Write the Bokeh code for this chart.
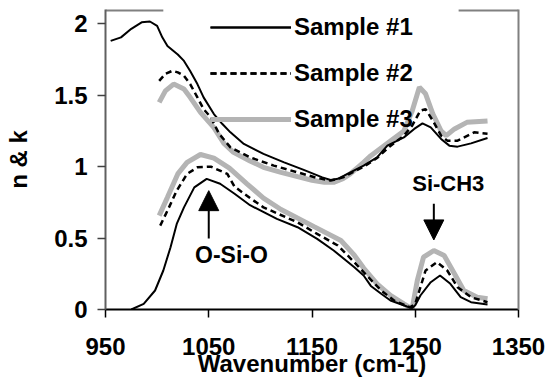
from bokeh.plotting import figure
from bokeh.models import (Range1d, FixedTicker, LinearAxis, Legend, LegendItem,
                          Arrow, NormalHead, Label)
from bokeh.embed import file_html
from bokeh.resources import INLINE

# ---------------- data ----------------
s1_n_x = [955, 965, 975, 985, 993, 1000, 1005, 1010, 1020, 1026, 1032, 1039, 1045, 1055, 1063,
          1071, 1084, 1103, 1123, 1142, 1160, 1168, 1175, 1181, 1200, 1213, 1223, 1239, 1249,
          1257, 1265, 1275, 1283, 1291, 1304, 1320]
s1_n_y = [1.88, 1.905, 1.965, 2.01, 2.016, 1.985, 1.905, 1.845, 1.785, 1.74, 1.67, 1.578, 1.485,
          1.368, 1.30, 1.24, 1.159, 1.089, 1.03, 0.977, 0.925, 0.907, 0.915, 0.937, 1.007, 1.065,
          1.147, 1.205, 1.264, 1.303, 1.275, 1.194, 1.147, 1.14, 1.163, 1.20]

s2_n_x = [1002, 1008, 1015, 1020, 1026, 1032, 1039, 1045, 1052, 1060, 1071, 1090, 1113, 1136,
          1155, 1168, 1180, 1200, 1213, 1225, 1239, 1247, 1255, 1260, 1267, 1275, 1281, 1291,
          1307, 1320]
s2_n_y = [1.60, 1.65, 1.671, 1.66, 1.636, 1.578, 1.485, 1.403, 1.345, 1.23, 1.135, 1.065, 1.007,
          0.96, 0.921, 0.902, 0.925, 1.0, 1.06, 1.14, 1.217, 1.287, 1.392, 1.403, 1.322, 1.217,
          1.182, 1.182, 1.24, 1.23]

s3_n_x = [1002, 1008, 1016, 1026, 1032, 1042, 1055, 1065, 1074, 1090, 1103, 1120, 1136, 1150,
          1162, 1171, 1180, 1187, 1200, 1207, 1226, 1239, 1247, 1254, 1260, 1267, 1275, 1280,
          1288, 1300, 1320]
s3_n_y = [1.45, 1.53, 1.578, 1.543, 1.485, 1.38, 1.273, 1.16, 1.10, 1.04, 0.995, 0.96, 0.93,
          0.905, 0.89, 0.89, 0.915, 0.949, 1.03, 1.077, 1.18, 1.25, 1.39, 1.555, 1.51, 1.37,
          1.25, 1.217, 1.264, 1.31, 1.32]

s1_k_x = [975, 987, 998, 1006, 1013, 1019, 1026, 1036, 1048, 1061, 1075, 1090, 1116, 1136,
          1155, 1171, 1191, 1200, 1207, 1217, 1226, 1242, 1247, 1250, 1255, 1265, 1274, 1284,
          1294, 1304, 1320]
s1_k_y = [0.0, 0.04, 0.133, 0.273, 0.436, 0.599, 0.715, 0.855, 0.914, 0.88, 0.81, 0.73, 0.634,
          0.576, 0.494, 0.413, 0.296, 0.238, 0.165, 0.11, 0.063, 0.021, 0.01, 0.03, 0.098, 0.191,
          0.238, 0.18, 0.086, 0.051, 0.035]

s2_k_x = [1003, 1010, 1019, 1029, 1039, 1052, 1068, 1075, 1090, 1103, 1136, 1155, 1175, 1191,
          1200, 1217, 1230, 1245, 1250, 1254, 1260, 1271, 1281, 1291, 1304, 1320]
s2_k_y = [0.587, 0.692, 0.832, 0.949, 0.995, 1.0, 0.949, 0.86, 0.78, 0.715, 0.61, 0.529, 0.448,
          0.331, 0.261, 0.133, 0.06, 0.015, 0.04, 0.133, 0.273, 0.331, 0.273, 0.156, 0.086, 0.051]

s3_k_x = [1002, 1010, 1020, 1029, 1042, 1055, 1070, 1087, 1103, 1120, 1152, 1178, 1191, 1200,
          1213, 1226, 1239, 1247, 1252, 1258, 1268, 1278, 1288, 1297, 1310, 1320]
s3_k_y = [0.657, 0.785, 0.949, 1.03, 1.085, 1.06, 0.99, 0.88, 0.78, 0.70, 0.58, 0.483, 0.38,
          0.29, 0.18, 0.098, 0.04, 0.005, 0.203, 0.366, 0.413, 0.378, 0.25, 0.133, 0.086, 0.075]

series_labels = ["Sample #1", "Sample #2", "Sample #3"]
x_ticks = [950, 1050, 1150, 1250, 1350]
y_ticks = [0, 0.5, 1, 1.5, 2]
y_tick_labels = ["0", "0.5", "1", "1.5", "2"]

FONT = "Liberation Sans"
GRAY = "#b4b4b4"

p = figure(width=552, height=379, output_backend="svg", toolbar_location=None,
           x_range=Range1d(950, 1350), y_range=Range1d(0, 2.1),
           min_border_left=105, min_border_right=34, min_border_top=9, min_border_bottom=70)
p.outline_line_color = None
p.grid.visible = False
p.background_fill_color = "white"

# curves: gray first, then dashed, then black on top
r3n = p.line(s3_n_x, s3_n_y, line_color=GRAY, line_width=5)
r3k = p.line(s3_k_x, s3_k_y, line_color=GRAY, line_width=5)
r2n = p.line(s2_n_x, s2_n_y, line_color="black", line_width=2.5, line_dash="6 4")
r2k = p.line(s2_k_x, s2_k_y, line_color="black", line_width=2.5, line_dash="6 4")
r1n = p.line(s1_n_x, s1_n_y, line_color="black", line_width=2)
r1k = p.line(s1_k_x, s1_k_y, line_color="black", line_width=2)

# partial top frame border (legend box hides the middle part)
p.segment(x0=[950, 1292], y0=[2.1, 2.1], x1=[1006, 1350], y1=[2.1, 2.1],
          line_color="#808080", line_width=4)

# axes
xa = p.xaxis[0]
xa.ticker = FixedTicker(ticks=x_ticks)
xa.axis_label = "Wavenumber (cm-1)"
ya = p.yaxis[0]
ya.ticker = FixedTicker(ticks=y_ticks)
ya.major_label_overrides = {t: l for t, l in zip(y_ticks, y_tick_labels)}
ya.axis_label = "n & k"
for ax in (xa, ya):
    ax.major_label_text_font = FONT
    ax.major_label_text_font_style = "bold"
    ax.major_label_text_font_size = "24px"
    ax.major_label_text_color = "black"
    ax.axis_label_text_font = FONT
    ax.axis_label_text_font_style = "bold"
    ax.axis_label_text_font_size = "24px"
    ax.axis_label_text_color = "black"
    ax.minor_tick_line_color = None
    ax.major_tick_in = 0
    ax.major_tick_out = 8
    ax.major_tick_line_width = 1.5
    ax.axis_line_width = 2
xa.axis_line_color = "black"
xa.major_tick_line_color = "black"
ya.axis_line_color = "#606060"
ya.major_tick_line_color = "#404040"
xa.major_label_standoff = 20
xa.axis_label_standoff = -8
ya.major_label_standoff = 10
ya.axis_label_standoff = 19

right = LinearAxis(ticker=FixedTicker(ticks=[]), major_label_text_font_size="0px",
                   axis_line_color="#808080", axis_line_width=2,
                   major_tick_line_color=None, minor_tick_line_color=None)
p.add_layout(right, "right")

# legend
legend = Legend(items=[LegendItem(label=series_labels[0], renderers=[r1n, r1k]),
                       LegendItem(label=series_labels[1], renderers=[r2n, r2k]),
                       LegendItem(label=series_labels[2], renderers=[r3n, r3k])],
                location=(105, 173), glyph_width=81, glyph_height=34, label_height=34,
                spacing=12, label_standoff=3, padding=0, margin=0,
                background_fill_alpha=0, border_line_alpha=0,
                label_text_font=FONT, label_text_font_style="bold",
                label_text_font_size="24px", label_text_color="black")
p.add_layout(legend, "center")

# annotations
p.add_layout(Arrow(end=NormalHead(size=20, fill_color="black", line_color="black"),
                   x_start=1050, y_start=0.497, x_end=1050, y_end=0.832,
                   line_color="black", line_width=2))
p.add_layout(Arrow(end=NormalHead(size=20, fill_color="black", line_color="black"),
                   x_start=1268, y_start=0.741, x_end=1268, y_end=0.487,
                   line_color="black", line_width=2))
p.add_layout(Label(x=1072, y=0.385, text="O-Si-O", text_align="center",
                   text_baseline="alphabetic", text_font=FONT, text_font_style="bold",
                   text_font_size="23px", text_color="black"))
p.add_layout(Label(x=1282, y=0.88, text="Si-CH3", text_align="center",
                   text_baseline="alphabetic", text_font=FONT, text_font_style="bold",
                   text_font_size="22px", text_color="black"))

open("out.html", "w").write(file_html(p, INLINE))
